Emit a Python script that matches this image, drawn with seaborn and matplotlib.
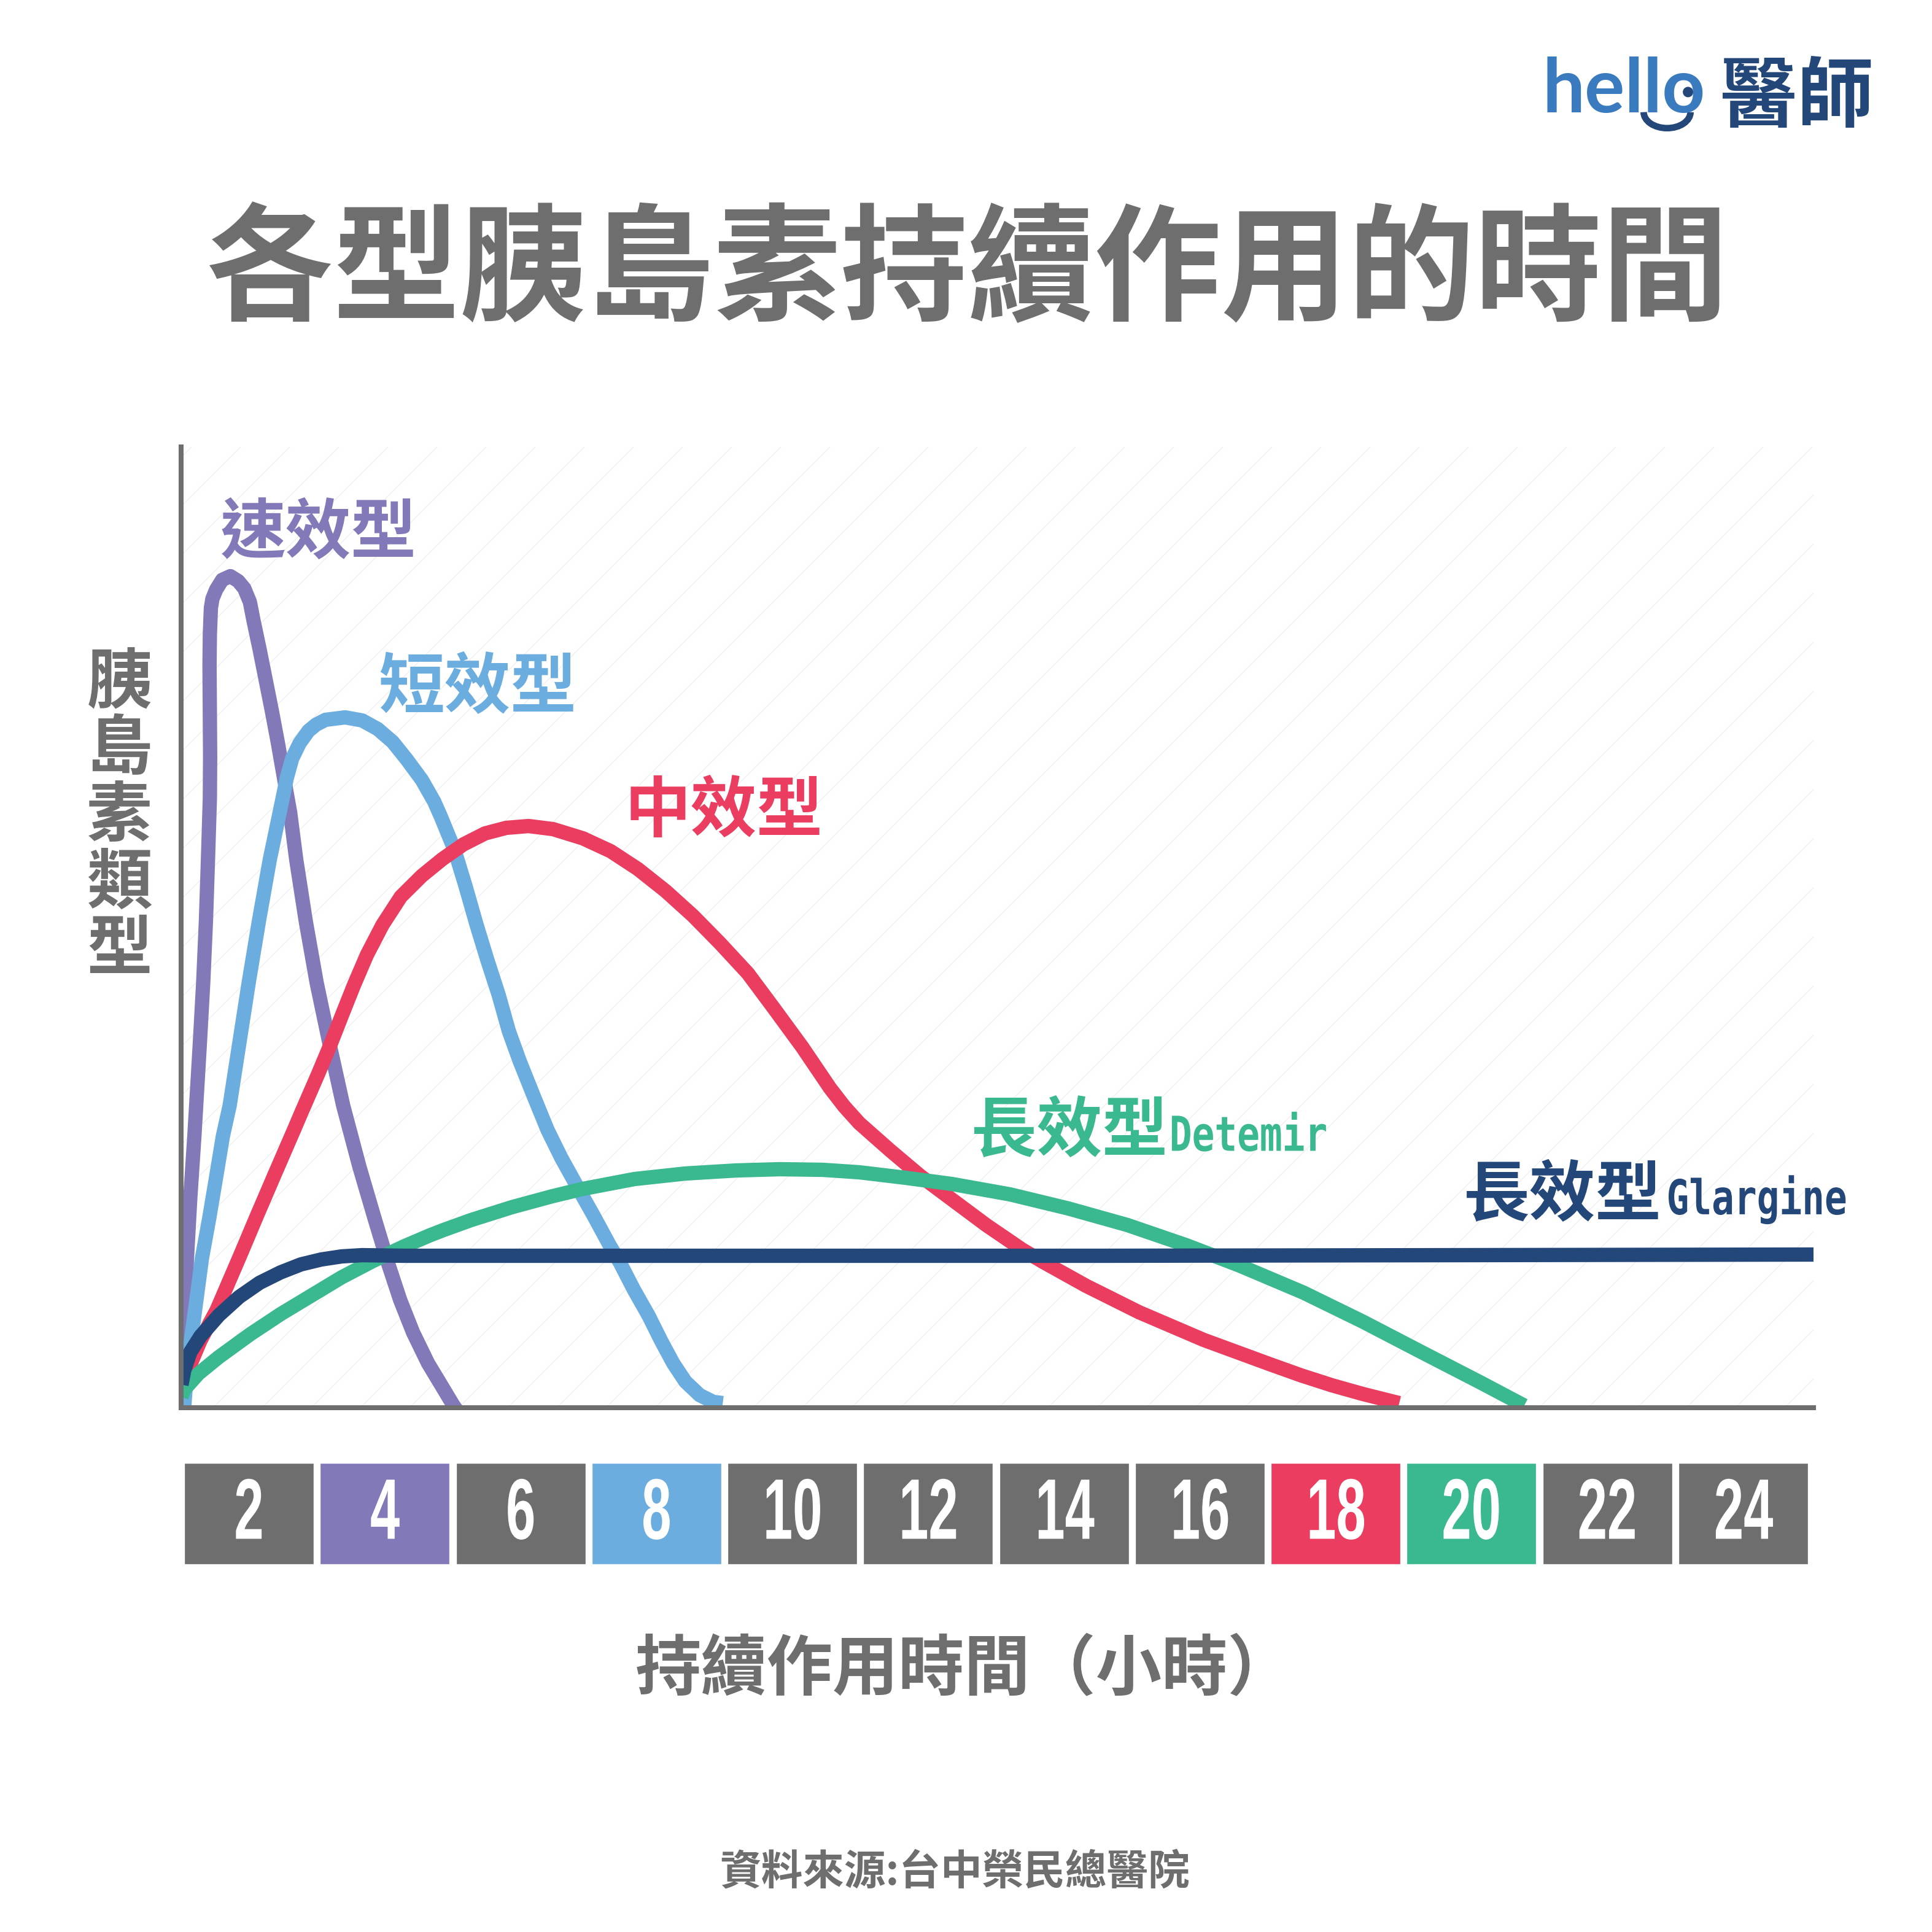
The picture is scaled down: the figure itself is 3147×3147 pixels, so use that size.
import matplotlib
matplotlib.use("Agg")
import matplotlib.pyplot as plt
from matplotlib.patches import Arc, Circle
from matplotlib.patheffects import AbstractPathEffect
from matplotlib.transforms import Affine2D
import pandas as pd
import seaborn as sns

# Data: hours after injection, relative insulin effect (arbitrary units)
rapid_h = [0.01,0.02,0.05,0.09,0.14,0.20,0.28,0.33,0.37,0.40,0.428,0.432,0.428,0.423,0.428,0.443,0.465,0.52,0.61,0.73,0.845,0.935,1.017,1.07,1.16,1.25,1.34,1.43,1.52,1.61,1.70,1.84,2.00,2.19,2.39,2.51,2.63,2.85,3.06,3.23,3.42,3.64,3.82,4.01,4.06]
rapid_v = [32,75,142,242,342,442,592,692,792,892,992,1059,1125,1209,1259,1302,1317,1332,1348,1354,1346,1334,1312,1282,1235,1185,1135,1082,1025,969,892,792,692,592,492,442,392,309,232,175,122,72,39,4,-4]
short_h = [0.05,0.09,0.15,0.23,0.31,0.42,0.52,0.62,0.72,0.86,1.00,1.15,1.31,1.48,1.56,1.64,1.75,1.88,1.99,2.13,2.42,2.67,2.90,3.12,3.33,3.55,3.73,3.83,4.03,4.19,4.35,4.51,4.68,4.83,4.99,5.20,5.40,5.60,5.81,6.08,6.31,6.47,6.67,6.89,7.07,7.25,7.43,7.64,7.84,7.98]
short_v = [0,62,109,175,242,309,375,442,492,592,692,792,892,982,1025,1057,1082,1102,1112,1120,1124,1119,1105,1084,1055,1022,987,962,908,850,788,730,672,613,564,506,452,407,365,312,265,235,192,149,109,72,42,20,9,7]
inter_h = [0.03,0.16,0.29,0.53,0.88,1.12,1.38,1.67,1.77,2.01,2.20,2.37,2.55,2.74,2.97,3.24,3.55,3.85,4.16,4.48,4.79,5.12,5.48,5.92,6.33,6.73,7.14,7.54,7.94,8.35,8.74,9.15,9.56,9.77,9.99,10.44,10.89,11.35,11.86,12.39,12.68,13.33,14.11,15.06,16.02,16.50,16.95,17.40,17.94]
inter_v = [32,75,109,159,249,312,379,453,479,540,590,638,688,737,786,832,866,893,917,935,944,947,942,927,906,877,841,801,756,707,649,587,520,490,463,419,377,339,297,257,238,198,155,110,71,52,36,22,7]
detemir_h = [0.01,0.05,0.26,0.56,1.02,1.47,1.92,2.37,2.82,3.28,3.66,3.87,4.27,4.87,5.47,5.92,6.68,7.43,8.18,8.82,9.45,9.99,10.67,11.35,12.21,13.07,13.94,14.81,15.59,16.53,17.40,18.27,19.13,19.78]
detemir_v = [17,29,55,82,119,152,182,212,238,262,280,289,305,326,344,356,372,381,386,388,387,383,374,364,347,324,297,264,231,187,140,90,41,3]
glargine_h = [0.01,0.05,0.14,0.29,0.56,0.86,1.16,1.47,1.77,2.07,2.37,2.67,3.28,4.48,13.60,24.04]
glargine_v = [37,60,90,116,150,180,203,220,233,241,246,248,247,247,247,249]

PURPLE, BLUE, RED, GREEN, NAVY, GRAY = "#8279B8", "#6CADE0", "#EA3D5F", "#3AB88F", "#24477A", "#6E6E6E"
series = [("速效型", rapid_h, rapid_v, PURPLE),
          ("短效型", short_h, short_v, BLUE),
          ("中效型", inter_h, inter_v, RED),
          ("長效型Detemir", detemir_h, detemir_v, GREEN),
          ("長效型Glargine", glargine_h, glargine_v, NAVY)]

hour_labels = ["2","4","6","8","10","12","14","16","18","20","22","24"]
tile_colors = [GRAY,PURPLE,GRAY,BLUE,GRAY,GRAY,GRAY,GRAY,RED,GREEN,GRAY,GRAY]

title = "各型胰島素持續作用的時間"
xlabel = "持續作用時間（小時）"
ylabel = "\n".join("胰島素類型")
source = "資料來源:台中榮民總醫院"


class Condense(AbstractPathEffect):
    """Narrow a text's glyphs around an anchor; it stays a real text."""
    def __init__(self, k, anchor="center"):
        super().__init__()
        self.k = k
        self.anchor = anchor

    def draw_path(self, renderer, gc, tpath, affine, rgbFace=None):
        ext = tpath.get_extents()
        c = (ext.x0 + ext.x1) / 2 if self.anchor == "center" else ext.x0
        t = Affine2D().translate(-c, 0).scale(self.k, 1).translate(c, 0) + affine
        renderer.draw_path(gc, tpath, t, rgbFace)


sns.set_theme(style="white")
plt.rcParams["font.family"] = ["Noto Sans CJK TC", "DejaVu Sans"]
plt.rcParams["hatch.linewidth"] = 0.5
plt.rcParams["hatch.color"] = "#F1F1F1"

SIZE = 3147
DPI = 240
fig = plt.figure(figsize=(SIZE/DPI, SIZE/DPI), dpi=DPI, facecolor="white")

def box(l, t, r, b):
    return [l/SIZE, 1-b/SIZE, (r-l)/SIZE, (b-t)/SIZE]

D = 1568.0
def fx(x): return x/D
def fy(y): return 1 - y/D

ax = fig.add_axes(box(294.5, 728, 2954, 2292.5))
ax.set_xlim(0, 24.04)
ax.set_ylim(0, 1564.5)
ax.patch.set_facecolor("white")
ax.patch.set_edgecolor("#F1F1F1")
ax.patch.set_hatch("/")
ax.patch.set_linewidth(0)
for s in ("top", "right"):
    ax.spines[s].set_visible(False)
for s in ("left", "bottom"):
    ax.spines[s].set_color(GRAY)
    ax.spines[s].set_linewidth(2.4)
    ax.spines[s].set_zorder(5)

for name, h, v, c in series:
    df = pd.DataFrame({"hours": h, "effect": v})
    sns.lineplot(data=df, x="hours", y="effect", sort=False, estimator=None, color=c,
                 linewidth=7, ax=ax, solid_joinstyle="round", solid_capstyle="butt")
ax.set_xlabel(""); ax.set_ylabel("")
ax.set_xticks([]); ax.set_yticks([])

# Tile strip
ax2 = fig.add_axes(box(295, 2382, 2950, 2549))
tiles = pd.DataFrame({"hour": hour_labels, "v": [1]*12})
sns.barplot(data=tiles, x="hour", y="v", hue="hour", palette=tile_colors, legend=False,
            width=0.963, ax=ax2, saturation=1)
ax2.set_xlim(-0.5, 11.5); ax2.set_ylim(0, 1); ax2.axis("off")
for i, lab in enumerate(hour_labels):
    ax2.text(i, 0.47, lab, ha="center", va="center", color="white", fontsize=42, fontweight="bold",
             family=["Liberation Sans"], path_effects=[Condense(0.62)])


def T(x, y, s, size, color, ha="left", weight="bold", va="center", **kw):
    return fig.text(fx(x), fy(y), s, fontsize=size, color=color, ha=ha, va=va, fontweight=weight, **kw)


T(785, 222, title, 62, GRAY, ha="center")
T(783, 1356, xlabel, 32.2, GRAY, ha="center")
T(775, 1520, source, 20.3, GRAY, ha="center")
T(97, 663, ylabel, 32, GRAY, ha="center", linespacing=1.0, multialignment="center")

T(179, 434, "速效型", 32, PURPLE)
T(307, 559, "短效型", 32.3, BLUE)
T(507, 659, "中效型", 32.3, RED)
T(788, 919, "長效型", 32, GREEN)
T(1188, 971, "長效型", 32.3, NAVY)
T(948.5, 934, "Detemir", 23.5, GREEN, va="baseline",
  family=["DejaVu Sans Mono"], path_effects=[Condense(0.78, "left")])
T(1352, 985.5, "Glargine", 23.5, NAVY, va="baseline",
  family=["DejaVu Sans Mono"], path_effects=[Condense(0.78, "left")])

# Logo
T(1252, 91, "hello", 36.7, "#3A7ABF", va="baseline", family=["Lato"])
T(1396, 80, "醫師", 37.5, NAVY)
fig.add_artist(Arc((fx(1353), fy(91)), 38/D, 26/D, theta1=180, theta2=360, color=NAVY, lw=3.2,
                   transform=fig.transFigure))
fig.add_artist(Circle((fx(1370), fy(74.7)), 3.4/D, color=NAVY, transform=fig.transFigure))

fig.savefig("out.png", dpi=DPI, facecolor="white")
